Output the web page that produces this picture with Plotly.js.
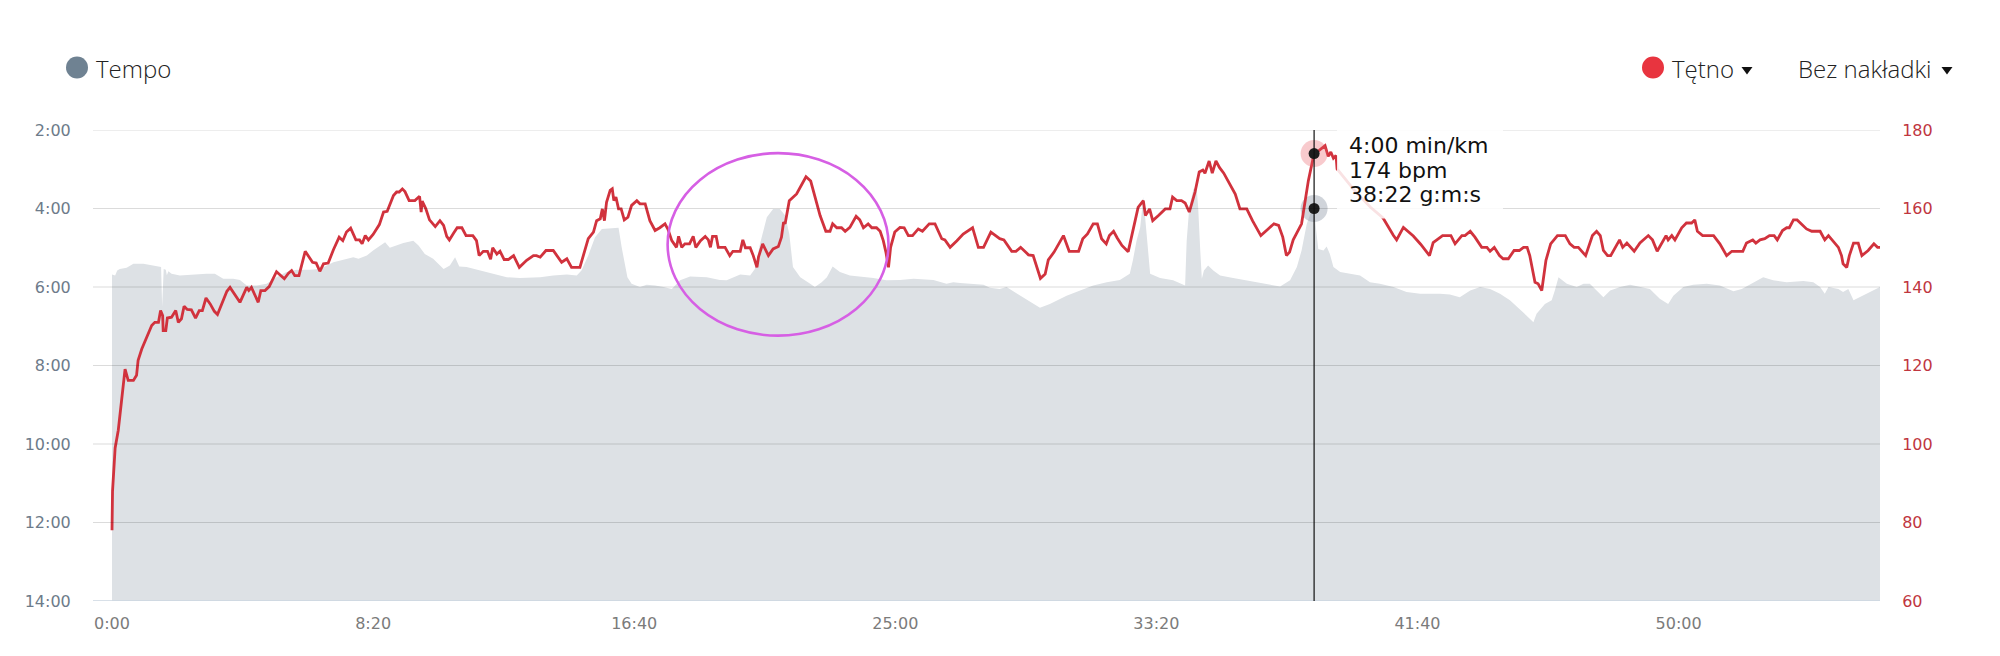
<!DOCTYPE html>
<html>
<head>
<meta charset="utf-8">
<script src="https://cdn.plot.ly/plotly-3.0.1.min.js"></script>
<style>
html,body{margin:0;padding:0;background:#fff;}
#chart{width:2000px;height:656px;}
</style>
</head>
<body>
<div id="chart"></div>
<script>
// ---- DATA (elapsed time in seconds) ----
const hrTime = [0,1,6,12,18,25,31,41,47,50,57,66,76,82,89,93,97,98,103,106,114,122,127,133,138,144,152,160,167,173,180,188,196,202,213,220,226,234,245,258,262,267,280,285,293,301,311,315,330,338,344,350,358,370,384,391,398,405,414,424,435,442,449,457,467,474,479,485,491,500,512,520,527,539,545,550,556,561,569,580,589,592,594,601,608,619,628,635,641,646,654,661,670,678,691,698,703,711,719,725,729,737,743,751,759,769,780,794,807,813,820,831,845,861,871,880,896,912,922,928,935,939,943,947,954,958,961,965,970,975,981,988,995,1005,1011,1021,1030,1040,1049,1059,1065,1072,1081,1085,1091,1097,1106,1113,1118,1127,1136,1142,1146,1150,1157,1161,1174,1183,1189,1203,1208,1213,1222,1228,1235,1238,1246,1257,1266,1276,1282,1286,1289,1297,1311,1318,1329,1338,1346,1356,1367,1375,1380,1388,1397,1404,1413,1425,1432,1439,1448,1455,1464,1471,1477,1482,1487,1491,1499,1509,1517,1525,1533,1544,1552,1565,1576,1589,1595,1605,1618,1630,1648,1659,1669,1683,1700,1708,1723,1731,1740,1755,1764,1772,1778,1787,1793,1804,1822,1833,1851,1859,1868,1879,1887,1895,1904,1910,1918,1925,1934,1946,1956,1965,1975,1979,1987,1993,2004,2017,2026,2031,2039,2048,2055,2063,2074,2082,2089,2093,2101,2107,2114,2121,2129,2140,2151,2160,2173,2184,2200,2214,2225,2234,2242,2249,2255,2262,2272,2278,2291,2302,2307,2316,2323,2329,2334,2339,2344,2346,2380,2410,2434,2454,2460,2473,2492,2506,2523,2530,2548,2564,2572,2585,2591,2601,2610,2623,2633,2639,2647,2657,2664,2674,2685,2695,2703,2710,2715,2725,2731,2738,2746,2755,2768,2783,2792,2800,2808,2822,2835,2843,2850,2856,2864,2870,2887,2893,2901,2915,2926,2942,2950,2959,2976,2980,2987,2993,3006,3015,3025,3031,3036,3046,3067,3079,3092,3102,3123,3130,3142,3148,3156,3165,3174,3183,3189,3199,3207,3212,3220,3227,3245,3255,3271,3280,3287,3306,3312,3315,3322,3327,3335,3344,3351,3363,3374,3381,3386];
const hrBpm = [78,88,99,103.5,110.7,119.1,116.2,116.2,117.5,121.3,124.2,127.2,130.2,131.0,131.0,134.0,132.7,128.9,128.9,132.1,132.3,134.0,131.0,131.9,135.1,134.3,134.2,132.1,134.0,134.0,137.2,135.7,133.8,133.0,136.6,138.9,139.9,138.3,136.1,139.9,139.1,139.9,136.1,139.1,139.1,140.1,142.9,143.9,142.1,143.5,144.2,142.9,142.9,149.1,146.3,146.1,144.0,145.9,146.1,149.5,152.7,151.8,154.0,155.0,152.0,152.0,151.0,153.1,152.0,153.4,155.9,159.1,159.3,163.3,164.2,164.2,165.0,164.3,162.0,162.0,163.1,159.1,161.9,159.9,157.1,155.4,156.9,155.7,152.9,152.0,153.7,155.1,155.1,153.1,153.1,151.8,148.0,149.1,149.1,147.1,150.0,148.4,149.1,147.0,147.0,148.0,145.0,146.8,148.0,148.0,147.6,149.3,149.3,146.3,147.2,145.0,145.0,152.3,154.0,156.9,157.4,159.9,156.9,161.6,164.6,165.0,162.0,162.9,159.9,159.9,157.1,157.8,160.8,162.0,161.2,161.2,156.9,154.4,155.1,156.1,154.6,151.8,150.1,152.9,150.1,151.0,151.0,152.9,150.1,151.8,152.9,152.0,150.1,152.9,152.9,150.1,150.1,148.0,149.1,149.1,152.0,150.0,150.0,148.0,145.0,147.6,151.0,148.0,149.7,150.3,152.7,156.5,156.1,162.0,163.7,165.4,168.1,167.0,162.9,158.2,154.2,154.2,156.1,155.1,155.1,154.2,155.2,158.0,157.1,155.1,156.1,155.1,155.1,154.2,151.8,148.9,145.0,150.1,154.0,155.2,155.1,153.1,153.1,154.8,154.2,156.1,156.1,152.3,152.0,150.1,151.8,153.5,155.1,150.1,150.1,154.0,152.3,152.0,149.1,149.1,150.1,148.2,148.0,145.0,142.2,143.3,146.9,148.9,153.1,149.1,149.1,152.3,153.5,156.1,156.1,152.3,151.0,153.1,154.2,152.5,150.6,149.0,154.6,160.3,162.0,158.2,159.9,156.9,158.2,159.9,159.9,162.9,162.0,162.0,161.4,159.1,164.2,169.3,169.8,169.0,172.1,169.0,172.1,170.4,169.0,166.4,163.7,159.9,159.9,156.9,153.1,154.8,156.1,155.7,152.7,148.0,148.9,152.0,154.4,156.1,167.1,174.0,174.3,175.4,176.0,173.3,174.4,172.8,173.5,170.1,164.5,160.3,157.6,153.1,152.0,155.2,153.0,150.9,148.0,151.3,153.1,153.1,151.0,153.1,153.1,154.2,152.7,150.1,150.1,149.1,150.1,148.0,147.2,147.2,149.3,149.3,150.1,150.1,148.0,141.2,140.8,139.1,146.8,151.0,153.1,153.1,151.0,150.1,150.1,148.0,153.1,154.2,153.1,149.3,148.0,148.0,152.0,150.1,151.2,149.1,151.2,153.1,152.0,149.1,153.1,152.0,153.1,152.0,155.1,156.3,156.3,157.1,154.2,153.1,153.1,151.0,148.0,149.1,149.1,151.2,152.0,151.2,152.0,152.3,153.1,153.1,152.0,154.4,155.1,155.1,157.1,157.1,154.8,154.2,154.2,152.0,153.1,150.1,148.0,145.9,145.0,148.0,151.2,151.2,148.0,149.3,151.0,150.1,150.1];

const paceTime = [0,6,10,15,28,41,60,79,94,96,99,103,105,108,114,130,156,181,197,213,232,245,258,277,296,315,334,354,379,398,424,449,462,472,488,500,513,523,532,545,558,577,587,599,615,635,647,657,665,679,705,730,756,781,807,820,845,871,890,899,912,925,938,970,976,987,995,1011,1024,1040,1056,1072,1088,1107,1139,1164,1177,1190,1203,1222,1231,1241,1254,1266,1279,1289,1297,1304,1318,1337,1346,1359,1369,1380,1394,1413,1432,1458,1483,1509,1535,1573,1598,1611,1624,1649,1669,1681,1700,1713,1739,1758,1777,1796,1828,1854,1879,1905,1930,1949,1955,1962,1969,1975,1979,1985,1988,2007,2032,2055,2058,2063,2071,2077,2080,2084,2087,2091,2099,2109,2122,2147,2173,2205,2237,2256,2269,2278,2288,2297,2302,2306,2310,2320,2326,2332,2339,2352,2371,2390,2409,2428,2454,2479,2505,2543,2562,2581,2601,2620,2639,2658,2677,2696,2709,2722,2728,2744,2757,2763,2770,2786,2805,2818,2830,2843,2856,2869,2888,2907,2926,2945,2964,2980,2990,3009,3028,3054,3079,3105,3121,3143,3162,3181,3207,3239,3258,3271,3280,3287,3306,3315,3325,3335,3347,3363,3386];
const paceMin = [5.68,5.71,5.58,5.54,5.51,5.41,5.41,5.45,5.49,6.5,5.54,5.56,5.70,5.60,5.66,5.71,5.68,5.66,5.66,5.79,5.79,5.82,5.96,5.96,5.92,5.75,5.62,5.56,5.56,5.54,5.37,5.28,5.24,5.28,5.20,5.07,4.94,4.86,5.00,4.94,4.88,4.82,4.94,5.16,5.28,5.54,5.45,5.24,5.48,5.49,5.58,5.66,5.75,5.77,5.75,5.75,5.71,5.68,5.71,5.58,5.20,4.73,4.52,4.49,4.99,5.75,5.92,6.00,5.94,5.96,6.00,6.05,5.83,5.73,5.75,5.82,5.83,5.75,5.68,5.71,5.54,4.90,4.22,4.01,4.01,4.18,4.65,5.49,5.75,5.92,6.00,5.88,5.75,5.48,5.62,5.71,5.73,5.77,5.83,5.82,5.79,5.82,5.92,5.88,5.90,5.92,5.94,6.02,6.05,6.00,6.22,6.39,6.53,6.43,6.22,6.09,5.96,5.88,5.82,5.66,5.32,4.82,4.48,3.71,4.31,5.15,5.66,5.77,5.83,5.96,4.82,3.97,3.50,3.46,3.97,5.07,5.79,5.58,5.45,5.58,5.71,5.77,5.83,5.92,5.99,5.83,5.49,5.07,4.39,4.05,4.00,4.56,5.03,5.07,4.97,5.15,5.49,5.62,5.66,5.71,5.88,5.92,6.00,6.13,6.17,6.17,6.19,6.26,6.09,6.00,6.05,6.17,6.34,6.56,6.73,6.90,6.68,6.43,6.34,6.09,5.75,5.92,6.00,5.92,5.92,6.09,6.26,6.09,6.00,5.94,6.00,6.05,6.30,6.43,6.22,6.00,5.94,5.92,5.96,6.11,6.05,5.88,5.75,5.83,5.88,5.85,5.88,6.00,6.17,6.00,6.05,6.13,6.05,6.34,6.26,6.17,6.00];

const timeTickVals = [0,500,1000,1500,2000,2500,3000];
const timeTickText = ['0:00','8:20','16:40','25:00','33:20','41:40','50:00'];
const paceTickVals = [2,4,6,8,10,12,14];
const paceTickText = ['2:00','4:00','6:00','8:00','10:00','12:00','14:00'];
const hrTickVals = [60,80,100,120,140,160,180];

const hoverTime = 2302;   // 38:22
const hoverPace = 4.0;    // 4:00 min/km
const hoverHr = 174;
const tooltipLines = ['4:00 min/km','174 bpm','38:22 g:m:s'];
const legendLeft = 'Tempo';
const legendHr = 'Tętno';
const legendOverlay = 'Bez nakładki';
// highlighted region (ellipse) in data units
const markTime = [1064, 1487];
const markPace = [2.59, 7.24];

// ---- LAYOUT HELPERS ----
const W = 2000, H = 656, ML = 93, MR = 120, MT = 129.5, MB = 55;
const px = p => (p - ML) / (W - ML - MR);
const py = p => (H - MB - p) / (H - MT - MB);
const FONT = 'DejaVu Sans';

const traces = [
  {x:[paceTime[0], paceTime[paceTime.length-1]], y:[14,14], mode:'lines', line:{width:0}, hoverinfo:'skip', showlegend:false},
  {x:paceTime, y:paceMin, mode:'lines', fill:'tonexty', fillcolor:'#dde1e5', line:{width:0, color:'#dde1e5'}, hoverinfo:'skip', showlegend:false},
  {x:hrTime, y:hrBpm, yaxis:'y2', mode:'lines', line:{color:'#d1323d', width:2.8}, hoverinfo:'skip', showlegend:false},
  {x:[hoverTime], y:[hoverPace], mode:'markers', marker:{size:27, color:'rgba(150,160,172,0.45)'}, hoverinfo:'skip', showlegend:false},
  {x:[hoverTime], y:[hoverPace], mode:'markers', marker:{size:11, color:'#1e1e1e'}, hoverinfo:'skip', showlegend:false},
  {x:[hoverTime], y:[hoverHr], yaxis:'y2', mode:'markers', marker:{size:27, color:'rgba(232,90,100,0.32)'}, hoverinfo:'skip', showlegend:false},
  {x:[hoverTime], y:[hoverHr], yaxis:'y2', mode:'markers', marker:{size:11, color:'#1e1e1e'}, hoverinfo:'skip', showlegend:false}
];

const shapes = [];
paceTickVals.forEach((v, i) => {
  const last = i === paceTickVals.length - 1;
  shapes.push({type:'line', xref:'paper', yref:'y', x0:0, x1:1, y0:v, y1:v, layer:'above',
    line:{color: last ? '#cbd6e1' : 'rgba(0,0,0,0.14)', width: last ? 1.5 : 1}});
});
// tooltip backdrop
shapes.push({type:'rect', xref:'paper', yref:'paper', x0:px(1337), x1:px(1503), y0:py(218), y1:py(118),
  fillcolor:'rgba(255,255,255,0.86)', line:{width:0}, layer:'above'});
// crosshair
shapes.push({type:'line', xref:'x', yref:'y', x0:hoverTime, x1:hoverTime, y0:2, y1:14, layer:'above',
  line:{color:'#111', width:1.2}});
// highlight ellipse
shapes.push({type:'circle', xref:'x', yref:'y', x0:markTime[0], x1:markTime[1], y0:markPace[0], y1:markPace[1],
  layer:'above', line:{color:'#d65fe4', width:2.6}});
// legend dots
shapes.push({type:'circle', xref:'paper', yref:'paper', xsizemode:'pixel', ysizemode:'pixel',
  xanchor:px(77), yanchor:py(67), x0:-11, x1:11, y0:-11, y1:11, fillcolor:'#6f8292', line:{width:0}});
shapes.push({type:'circle', xref:'paper', yref:'paper', xsizemode:'pixel', ysizemode:'pixel',
  xanchor:px(1653), yanchor:py(67), x0:-11, x1:11, y0:-11, y1:11, fillcolor:'#e8343f', line:{width:0}});
// dropdown triangles
[1747, 1947].forEach(cx => {
  shapes.push({type:'path', xref:'paper', yref:'paper', xsizemode:'pixel', ysizemode:'pixel',
    xanchor:px(cx), yanchor:py(70), path:'M -5.5 3.5 L 5.5 3.5 L 0 -4 Z', fillcolor:'#111', line:{width:0}});
});

const annotations = [
  {xref:'paper', yref:'paper', x:px(94), y:py(68), xanchor:'left', yanchor:'middle', showarrow:false,
   text:legendLeft, font:{family:'Open Sans', size:24, weight:300, color:'#222'}},
  {xref:'paper', yref:'paper', x:px(1670), y:py(68), xanchor:'left', yanchor:'middle', showarrow:false,
   text:legendHr, font:{family:'Open Sans', size:24, weight:300, color:'#222'}},
  {xref:'paper', yref:'paper', x:px(1796), y:py(68), xanchor:'left', yanchor:'middle', showarrow:false,
   text:legendOverlay, font:{family:'Open Sans', size:24, weight:300, color:'#222'}}
];
const tipCenters = [145.5, 170.5, 194.5];
tooltipLines.forEach((t, i) => {
  annotations.push({xref:'paper', yref:'paper', x:px(1347), y:py(tipCenters[i]), xanchor:'left', yanchor:'middle',
    showarrow:false, text:t, font:{family:FONT, size:22, color:'#111'}});
});

const layout = {
  width:W, height:H, margin:{l:ML, r:MR, t:MT, b:MB, pad:0},
  paper_bgcolor:'#fff', plot_bgcolor:'#fff', showlegend:false, hovermode:false,
  xaxis:{range:[-36.4, 3385.7], tickvals:timeTickVals, ticktext:timeTickText, showgrid:false, zeroline:false,
    showline:false, ticks:'outside', ticklen:8, tickcolor:'rgba(0,0,0,0)',
    tickfont:{family:FONT, size:16, color:'#7b7b7b'}, fixedrange:true},
  yaxis:{range:[14,2], tickvals:paceTickVals, ticktext:paceTickText, showgrid:false, zeroline:false,
    showline:false, ticks:'outside', ticklen:18, tickcolor:'rgba(0,0,0,0)',
    tickfont:{family:FONT, size:16, color:'#6d7b8a'}, fixedrange:true},
  yaxis2:{range:[60,180], tickvals:hrTickVals, overlaying:'y', side:'right', showgrid:false, zeroline:false,
    showline:false, ticks:'outside', ticklen:18, tickcolor:'rgba(0,0,0,0)',
    tickfont:{family:FONT, size:16, color:'#c0363f'}, fixedrange:true},
  shapes:shapes, annotations:annotations
};

Plotly.newPlot('chart', traces, layout, {displayModeBar:false, staticPlot:true});
</script>
</body>
</html>
